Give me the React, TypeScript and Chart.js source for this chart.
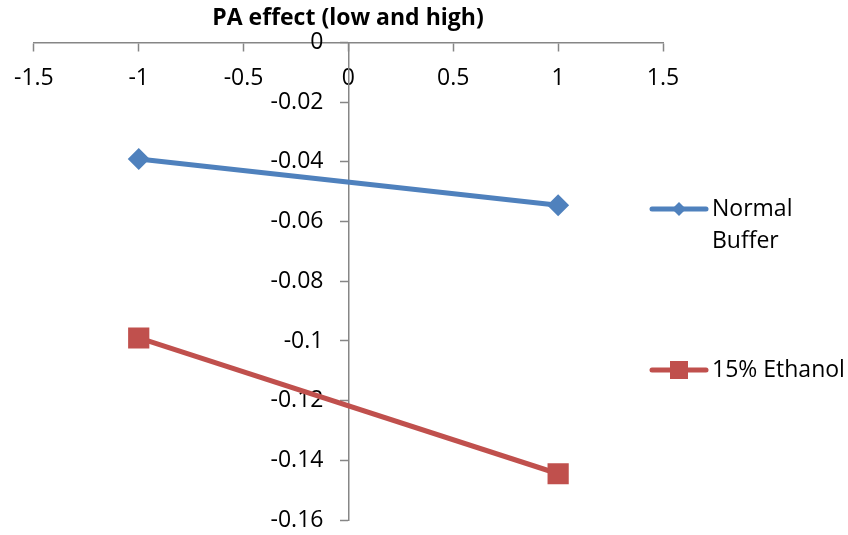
import React, { useEffect, useRef } from "react";
import { Chart, registerables } from "chart.js";

Chart.register(...registerables);

const chartTitle = "PA effect (low and high)";
const xValues = [-1, 1];
const normalBuffer = [-0.039, -0.0545];
const ethanol15 = [-0.099, -0.1445];
const seriesLabels = ["Normal Buffer", "15% Ethanol"];
const xTickValues = [-1.5, -1, -0.5, 0, 0.5, 1, 1.5];
const yTickValues = [0, -0.02, -0.04, -0.06, -0.08, -0.1, -0.12, -0.14, -0.16];

const FONT = "'Open Sans', sans-serif";
const AXIS_COLOR = "#868686";

// Shift y-axis labels (axis positioned at x=0) left of the tick marks
const yLabelShift = {
  id: "yLabelShift",
  beforeDraw(chart: any, _args: any, opts: any) {
    const scale = chart.scales.y;
    if (!scale) return;
    const items = scale.getLabelItems();
    items.forEach((it: any) => {
      if (!it.__shifted) {
        it.options.translation = [it.options.translation[0] - opts.shift, it.options.translation[1]];
        it.__shifted = true;
      }
    });
  },
};

const customLegend = {
  id: "customLegend",
  afterDraw(chart: any, _args: any, opts: any) {
    const ctx = chart.ctx;
    const { x0, x1, textX, lineHeight, centers, fontSize } = opts;
    ctx.save();
    ctx.font = `${fontSize}px ${FONT}`;
    ctx.textBaseline = "middle";
    ctx.textAlign = "left";
    chart.data.datasets.forEach((ds: any, i: number) => {
      const cy = centers[i];
      ctx.strokeStyle = ds.borderColor;
      ctx.lineWidth = ds.borderWidth;
      ctx.lineCap = "round";
      ctx.beginPath();
      ctx.moveTo(x0, cy);
      ctx.lineTo(x1, cy);
      ctx.stroke();
      const mx = (x0 + x1) / 2;
      ctx.fillStyle = ds.backgroundColor;
      ctx.beginPath();
      if (ds.pointStyle === "rectRot") {
        const r = opts.diamondR;
        ctx.moveTo(mx - r, cy);
        ctx.lineTo(mx, cy - r);
        ctx.lineTo(mx + r, cy);
        ctx.lineTo(mx, cy + r);
        ctx.closePath();
      } else {
        const h = opts.squareHalf;
        ctx.rect(mx - h, cy - h, 2 * h, 2 * h);
      }
      ctx.fill();
      const maxW = chart.width - textX - 2;
      const words = String(ds.label).split(" ");
      const lines: string[] = [];
      let cur = "";
      for (const w of words) {
        const test = cur ? cur + " " + w : w;
        if (ctx.measureText(test).width > maxW && cur) {
          lines.push(cur);
          cur = w;
        } else {
          cur = test;
        }
      }
      if (cur) lines.push(cur);
      ctx.fillStyle = "#000";
      lines.forEach((ln, k) => {
        ctx.fillText(ln, textX, cy + k * lineHeight);
      });
    });
    ctx.restore();
  },
};

export default function App() {
  const canvasRef = useRef<HTMLCanvasElement | null>(null);

  useEffect(() => {
    if (!canvasRef.current) return;
    Chart.defaults.font.family = FONT;
    Chart.defaults.color = "#000";
    const chart = new Chart(canvasRef.current, {
      type: "line",
      data: {
        datasets: [
          {
            label: seriesLabels[0],
            data: xValues.map((x, i) => ({ x, y: normalBuffer[i] })),
            borderColor: "#4F81BD",
            backgroundColor: "#4F81BD",
            borderWidth: 5,
            pointStyle: "rectRot",
            pointRadius: 11,
            pointHoverRadius: 11,
            pointBorderWidth: 0,
          },
          {
            label: seriesLabels[1],
            data: xValues.map((x, i) => ({ x, y: ethanol15[i] })),
            borderColor: "#C0504D",
            backgroundColor: "#C0504D",
            borderWidth: 5,
            pointStyle: "rect",
            pointRadius: 15,
            pointHoverRadius: 15,
            pointBorderWidth: 0,
          },
        ],
      },
      options: {
        animation: false,
        responsive: true,
        maintainAspectRatio: false,
        layout: { padding: { left: 33, right: 185, top: 0, bottom: 13 } },
        plugins: {
          legend: { display: false },
          tooltip: { enabled: false },
          title: {
            display: true,
            text: chartTitle,
            color: "#000",
            font: { family: FONT, size: 23, weight: "bold" },
            padding: { top: 5, bottom: 10 },
          },
          customLegend: {
            x0: 652,
            x1: 706,
            textX: 712,
            lineHeight: 32,
            centers: [209, 370],
            fontSize: 23,
            diamondR: 7,
            squareHalf: 9,
          },
          yLabelShift: { shift: 25 },
        } as any,
        scales: {
          x: {
            type: "linear",
            min: -1.5,
            max: 1.5,
            position: { y: 0 } as any,
            afterBuildTicks: (axis: any) => {
              axis.ticks = xTickValues.map((v) => ({ value: v }));
            },
            grid: {
              drawOnChartArea: false,
              drawTicks: true,
              tickLength: 8,
              tickColor: AXIS_COLOR,
              tickWidth: 1.5,
            },
            border: { display: true, color: AXIS_COLOR, width: 1.5 },
            ticks: {
              font: { family: FONT, size: 23 },
              color: "#000",
              padding: 14,
              maxRotation: 0,
              callback: (v: any) => String(v),
            },
          },
          y: {
            type: "linear",
            min: -0.16,
            max: 0,
            position: { x: 0 } as any,
            afterBuildTicks: (axis: any) => {
              axis.ticks = yTickValues.map((v) => ({ value: v }));
            },
            grid: {
              drawOnChartArea: false,
              drawTicks: true,
              tickLength: 8,
              tickColor: AXIS_COLOR,
              tickWidth: 1.5,
            },
            border: { display: true, color: AXIS_COLOR, width: 1.5 },
            ticks: {
              font: { family: FONT, size: 23 },
              color: "#000",
              padding: 0,
              callback: (v: any) => String(v),
            },
          },
        },
      },
      plugins: [yLabelShift, customLegend],
    });
    return () => chart.destroy();
  }, []);

  return (
    <div style={{ position: "fixed", left: 0, top: 0, width: 848, height: 535, background: "#fff" }}>
      <canvas ref={canvasRef} />
    </div>
  );
}
